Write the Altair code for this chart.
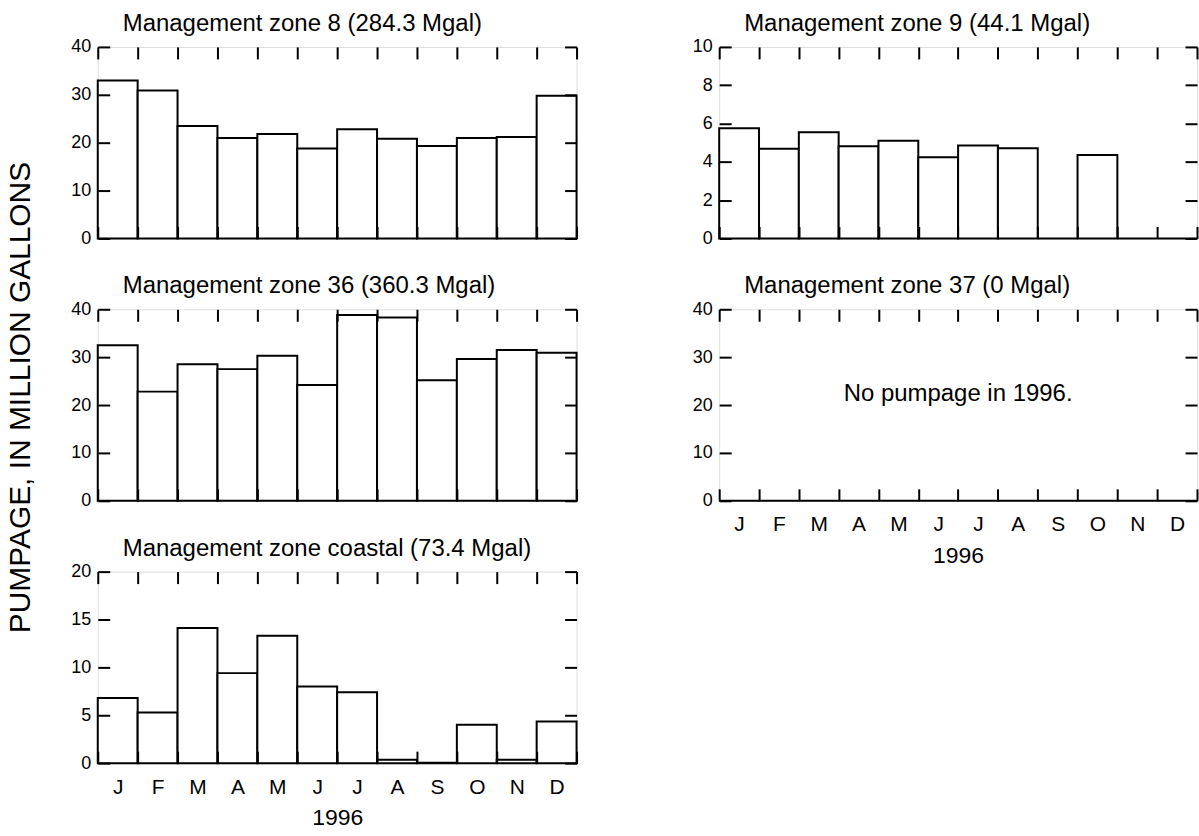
import altair as alt
import pandas as pd

FONT = "Liberation Sans"

months = ["Jan", "Feb", "Mar", "Apr", "May", "Jun", "Jul", "Aug", "Sep", "Oct", "Nov", "Dec"]
zone8 = [33.0, 30.9, 23.5, 21.0, 21.8, 18.8, 22.8, 20.8, 19.3, 21.0, 21.2, 29.8]
zone9 = [5.76, 4.68, 5.55, 4.82, 5.10, 4.24, 4.85, 4.71, 0.0, 4.36, 0.0, 0.0]
zone36 = [32.5, 22.8, 28.5, 27.5, 30.3, 24.2, 38.8, 38.3, 25.2, 29.6, 31.5, 30.9]
zone37 = [0, 0, 0, 0, 0, 0, 0, 0, 0, 0, 0, 0]
coastal = [6.8, 5.3, 14.1, 9.4, 13.3, 8.0, 7.4, 0.35, 0.05, 4.0, 0.35, 4.35]

titles = [
    "Management zone 8 (284.3 Mgal)",
    "Management zone 9 (44.1 Mgal)",
    "Management zone 36 (360.3 Mgal)",
    "Management zone 37 (0 Mgal)",
    "Management zone coastal (73.4 Mgal)",
]

NEG = {"expr": "-12"}


def common():
    return dict(tickSize=NEG, tickWidth=2, tickColor="black", domain=False,
                zindex=1, grid=False, minExtent=0)


def panel(vals, title, ymax, ystep, xlabels, width, ytitle=None, note=None):
    df = pd.DataFrame({"month": months, "value": vals})
    yvals = list(range(0, ymax + 1, ystep))
    xs = alt.Scale(domain=months, paddingInner=0, paddingOuter=0)
    ys = alt.Scale(domain=[0, ymax], nice=False)
    if xlabels:
        xb = alt.Axis(orient="bottom", tickBand="extent",
                      labelExpr="substring(datum.label, 0, 1)", labelAngle=0,
                      labelPadding=25, labelFontSize=21, labelFont=FONT,
                      labelColor="black", title="1996", titleFont=FONT,
                      titleFontSize=23, titleFontWeight="normal",
                      titleColor="black", titlePadding=10, **common())
    else:
        xb = alt.Axis(orient="bottom", tickBand="extent", labels=False,
                      title=None, **common())
    ykw = dict(orient="left", values=yvals, labelPadding=19, labelFontSize=18,
               labelFont=FONT, labelColor="black", **common())
    if ytitle:
        yl = alt.Axis(title=ytitle, titleFont=FONT, titleFontSize=30,
                      titleFontWeight="normal", titleColor="black",
                      titlePadding=35, titleY=88, **ykw)
    else:
        yl = alt.Axis(title=None, **ykw)

    bars = alt.Chart(df).mark_bar(fill="white", stroke="black", strokeWidth=2).encode(
        x=alt.X("month:N", scale=xs, axis=xb),
        y=alt.Y("value:Q", scale=ys, axis=yl),
    )
    ghost = alt.Chart(df).mark_bar(opacity=0).encode(
        x=alt.X("month:N", scale=xs,
                axis=alt.Axis(orient="top", tickBand="extent", labels=False,
                              title=None, **common())),
        y=alt.Y("value:Q", scale=ys,
                axis=alt.Axis(orient="right", values=yvals, labels=False,
                              title=None, **common())),
    )
    head = alt.Chart(pd.DataFrame({"t": [title]})).mark_text(
        font=FONT, fontSize=24, color="black", align="left", baseline="alphabetic"
    ).encode(x=alt.value(25), y=alt.value(-16), text="t:N")
    layers = [bars, ghost, head]
    if note:
        ndf = pd.DataFrame({"note": [note[0]], "month": [note[1]], "value": [note[2]]})
        layers.append(
            alt.Chart(ndf).mark_text(font=FONT, fontSize=24, color="black",
                                     align="center", baseline="middle").encode(
                x=alt.X("month:N", scale=xs, bandPosition=0, axis=None),
                y=alt.Y("value:Q", scale=ys, axis=None),
                text="note:N",
            )
        )
    return alt.layer(*layers).resolve_axis(x="independent", y="independent").properties(
        width=width, height=192,
    )


p8 = panel(zone8, titles[0], 40, 10, False, 480)
p9 = panel(zone9, titles[1], 10, 2, False, 479)
p36 = panel(zone36, titles[2], 40, 10, False, 480,
            ytitle="PUMPAGE, IN MILLION GALLONS")
p37 = panel(zone37, titles[3], 40, 10, True, 479,
            note=("No pumpage in 1996.", "Jul", 22.4))
pc = panel(coastal, titles[4], 20, 5, True, 480)

chart = alt.concat(p8, p9, p36, p37, pc, columns=2,
                   spacing={"row": 71, "column": 143}, bounds="flush").properties(
    padding={"left": 5, "top": 10, "right": 0, "bottom": 5}
).configure_view(stroke="black", strokeWidth=2).configure(font=FONT)

chart.save("out.html", embed_options={"renderer": "svg", "actions": False})
